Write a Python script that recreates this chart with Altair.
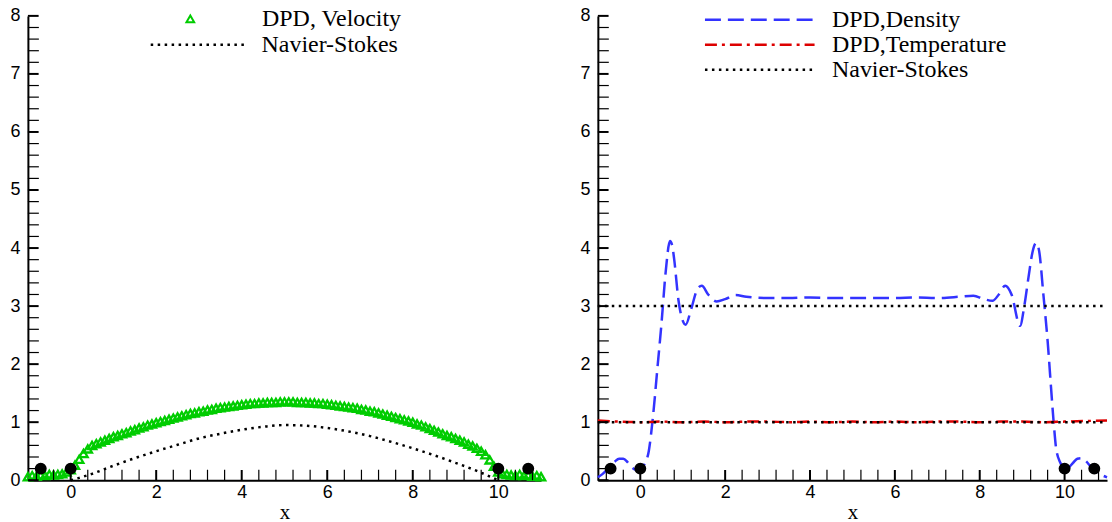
import altair as alt
import pandas as pd

# ---------------- data ----------------
# Left panel: DPD velocity (triangles), sampled every 0.1 from -1 to 11
vel_x = [round(-1 + 0.1 * i, 1) for i in range(121)]
vel_y = [
    0.06, 0.08, 0.07, 0.09, 0.08, 0.10, 0.09, 0.10, 0.11, 0.14,   # -1.0 .. -0.1
    0.18, 0.26, 0.36, 0.46, 0.54, 0.60, 0.63, 0.66, 0.69, 0.72,   # 0.0 .. 0.9
    0.75, 0.77, 0.80, 0.82, 0.85, 0.87, 0.90, 0.92, 0.95, 0.97,   # 1.0 .. 1.9
    0.99, 1.01, 1.03, 1.05, 1.07, 1.09, 1.11, 1.13, 1.15, 1.16,   # 2.0 .. 2.9
    1.18, 1.19, 1.21, 1.22, 1.24, 1.25, 1.26, 1.27, 1.28, 1.29,   # 3.0 .. 3.9
    1.30, 1.31, 1.32, 1.32, 1.33, 1.33, 1.34, 1.34, 1.34, 1.35,   # 4.0 .. 4.9
    1.35, 1.35, 1.35, 1.34, 1.34, 1.34, 1.33, 1.33, 1.32, 1.32,   # 5.0 .. 5.9
    1.31, 1.30, 1.29, 1.28, 1.27, 1.26, 1.25, 1.24, 1.22, 1.21,   # 6.0 .. 6.9
    1.19, 1.18, 1.16, 1.14, 1.12, 1.10, 1.08, 1.06, 1.04, 1.02,   # 7.0 .. 7.9
    1.00, 0.97, 0.95, 0.92, 0.89, 0.86, 0.83, 0.80, 0.77, 0.75,   # 8.0 .. 8.9
    0.72, 0.69, 0.66, 0.62, 0.59, 0.55, 0.50, 0.44, 0.35, 0.24,   # 9.0 .. 9.9
    0.14, 0.11, 0.10, 0.09, 0.08, 0.10, 0.08, 0.09, 0.07, 0.08,   # 10.0 .. 10.9
    0.06,                                                         # 11.0
]

# Left panel: Navier-Stokes velocity profile
ns_left_x = [0.0, 0.2, 0.5, 1.0, 1.5, 2.0, 2.5, 3.0, 3.5, 4.0, 4.5, 5.0,
             5.5, 6.0, 6.5, 7.0, 7.5, 8.0, 8.5, 9.0, 9.5, 10.0]
ns_left_y = [0.0, 0.04, 0.11, 0.25, 0.38, 0.50, 0.61, 0.72, 0.80, 0.87, 0.92, 0.95,
             0.94, 0.90, 0.84, 0.76, 0.66, 0.55, 0.43, 0.30, 0.16, 0.0]

# Right panel: DPD density
den_x = [-1.0, -0.9, -0.8, -0.7, -0.6, -0.5, -0.4, -0.3, -0.2, -0.1,
         0.0, 0.1, 0.2, 0.3, 0.4, 0.5, 0.6, 0.7, 0.75, 0.8, 0.9, 1.0, 1.07,
         1.2, 1.35, 1.45, 1.6, 1.8, 2.0, 2.25, 2.5, 3.0, 3.5, 4.0, 4.5, 5.0,
         5.5, 6.0, 6.5, 7.0, 7.5, 7.85, 8.1, 8.3, 8.45, 8.6, 8.75, 8.95,
         9.05, 9.15, 9.25, 9.33, 9.4, 9.5, 9.6, 9.7, 9.75, 9.8, 9.9, 10.0,
         10.1, 10.2, 10.3, 10.4, 10.5, 10.6, 10.7, 10.8, 10.9, 11.0]
den_y = [0.05, 0.10, 0.17, 0.25, 0.32, 0.37, 0.37, 0.31, 0.22, 0.18,
         0.18, 0.28, 0.50, 1.10, 1.90, 2.70, 3.60, 4.12, 4.05, 3.80, 3.10, 2.75, 2.68,
         2.95, 3.30, 3.35, 3.20, 3.08, 3.12, 3.19, 3.16, 3.14, 3.14, 3.15, 3.14, 3.14,
         3.14, 3.14, 3.15, 3.14, 3.16, 3.18, 3.12, 3.09, 3.20, 3.35, 3.20, 2.66,
         3.00, 3.50, 3.95, 4.09, 3.95, 3.20, 2.40, 1.40, 0.93, 0.55, 0.30, 0.18,
         0.22, 0.30, 0.37, 0.38, 0.33, 0.25, 0.18, 0.12, 0.08, 0.05]

# Right panel: DPD temperature
tem_x = [-1.0, -0.5, 0.0, 0.5, 1.0, 1.5, 2.0, 2.5, 3.0, 3.5, 4.0, 4.5, 5.0, 5.5,
         6.0, 6.5, 7.0, 7.5, 8.0, 8.5, 9.0, 9.5, 10.0, 10.5, 11.0]
tem_y = [1.03, 1.01, 1.00, 1.01, 1.00, 1.01, 1.00, 1.01, 1.01, 1.00, 1.01, 1.00, 1.01, 1.00,
         1.01, 1.00, 1.01, 1.01, 1.00, 1.01, 1.01, 1.00, 1.01, 1.02, 1.03]

# Right panel: Navier-Stokes levels (density and temperature)
ns_right_x = [-1.0, 11.0]
ns_right_levels = [3.0, 1.0]

# Boundary particles
dot_x = [-0.7, 0.0, 10.0, 10.7]
dot_y = [0.2, 0.2, 0.2, 0.2]

# Ticks
x_major = [0, 2, 4, 6, 8, 10]
x_minor = [-0.8, -0.4, 0.4, 0.8, 1.2, 1.6, 2.4, 2.8, 3.2, 3.6, 4.4, 4.8, 5.2, 5.6,
           6.4, 6.8, 7.2, 7.6, 8.4, 8.8, 9.2, 9.6, 10.4, 10.8]
y_major = [0, 1, 2, 3, 4, 5, 6, 7, 8]
y_minor = [round(i * 0.2, 1) for i in range(1, 40) if i % 5 != 0]

# ---------------- layout ----------------
H = 466
WL = 515
WR = 511

SERIF = "Liberation Serif"
SANS = "Liberation Sans"
LEG_FS = 24

xs = alt.Scale(domain=[-1, 11], nice=False, zero=False)
ys = alt.Scale(domain=[0, 8], nice=False, zero=False)

x_axis = alt.Axis(values=x_major, tickSize=0, labelPadding=3, labelFont=SANS,
                  labelFontSize=18, labelColor="black", domainColor="black",
                  domainWidth=2, grid=False, labelFlush=False, title="x",
                  titleFont=SERIF, titleFontSize=21, titleFontWeight="normal",
                  titleColor="black", titlePadding=0)
y_axis = alt.Axis(values=y_major, tickSize=0, labelPadding=8, labelFont=SANS,
                  labelFontSize=18, labelColor="black", domainColor="black",
                  domainWidth=2, grid=False, labelFlush=False, title=None)


def X(field):
    return alt.X(field, type="quantitative", scale=xs, axis=x_axis)


def Y(field):
    return alt.Y(field, type="quantitative", scale=ys, axis=y_axis)


# inward tick symbols: custom paths scaled by sqrt(size)/2 -> length sqrt(size)
UP_TICK = "M0,0L0,-2"
RIGHT_TICK = "M0,0L2,0"

KINDS = ["dot", "xmaj", "xmin", "ymaj", "ymin"]
pts_rows = []
for xv, yv in zip(dot_x, dot_y):
    pts_rows.append({"x": xv, "y": yv, "kind": "dot"})
for xv in x_major:
    pts_rows.append({"x": xv, "y": 0.0, "kind": "xmaj"})
for xv in x_minor:
    pts_rows.append({"x": xv, "y": 0.0, "kind": "xmin"})
for yv in y_major:
    pts_rows.append({"x": -1.0, "y": yv, "kind": "ymaj"})
for yv in y_minor:
    pts_rows.append({"x": -1.0, "y": yv, "kind": "ymin"})
pts_df = pd.DataFrame(pts_rows)


def points_layer():
    # boundary particles and inward axis ticks
    return alt.Chart(pts_df).mark_point(color="black", opacity=1, strokeCap="butt").encode(
        x=X("x"), y=Y("y"),
        shape=alt.Shape("kind:N", scale=alt.Scale(domain=KINDS,
                                                 range=["circle", UP_TICK, UP_TICK, RIGHT_TICK, RIGHT_TICK]),
                        legend=None),
        size=alt.Size("kind:O", scale=alt.Scale(domain=KINDS, range=[100, 121, 36, 144, 36]),
                      legend=None),
        fill=alt.condition("datum.kind == 'dot'", alt.value("black"), alt.value("transparent")),
        strokeWidth=alt.condition("datum.kind == 'xmin' || datum.kind == 'ymin'",
                                  alt.value(1.2), alt.value(2)),
    )


# horizontal line symbol for legends; scaled by sqrt(size)/2
LINE_SYM = "M-10,0L10,0"

# ---------------- left panel ----------------
vel_df = pd.DataFrame({"x": vel_x, "y": vel_y, "series": "DPD, Velocity"})
nsl_df = pd.DataFrame({"x": ns_left_x, "y": ns_left_y, "series": "Navier-Stokes"})

tri = alt.Chart(vel_df).mark_point(
    shape="triangle-up", filled=False, color="#00cc00", strokeWidth=2.3, size=70, opacity=1
).encode(
    x=X("x"), y=Y("y"),
    shape=alt.Shape("series:N", scale=alt.Scale(domain=["DPD, Velocity"], range=["triangle-up"]),
                    legend=alt.Legend(orient="none", legendX=151, legendY=-9, title=None,
                                      symbolSize=60, symbolStrokeColor="#00cc00",
                                      symbolFillColor="transparent", symbolStrokeWidth=2,
                                      labelFont=SERIF, labelFontSize=LEG_FS, labelColor="black",
                                      labelOffset=60, labelLimit=400, padding=0)),
)

nsl = alt.Chart(nsl_df).mark_line(
    color="black", strokeWidth=2.5, strokeCap="butt", interpolate="monotone"
).encode(
    x=X("x"), y=Y("y"),
    strokeDash=alt.StrokeDash("series:N", scale=alt.Scale(domain=["Navier-Stokes"], range=[[2.5, 4.5]]),
                              legend=alt.Legend(orient="none", legendX=158.75, legendY=17, title=None,
                                                symbolType=LINE_SYM, symbolSize=90.25,
                                                symbolStrokeColor="black", symbolStrokeWidth=2.5,
                                                labelFont=SERIF, labelFontSize=LEG_FS, labelColor="black",
                                                labelOffset=51.75, labelLimit=400, padding=0)),
)

left = alt.layer(nsl, tri, points_layer()).resolve_scale(
    shape="independent", size="independent"
).properties(width=WL, height=H)

# ---------------- right panel ----------------
rows = []
for xv, yv in zip(den_x, den_y):
    rows.append({"x": xv, "y": yv, "series": "DPD,Density", "grp": "den"})
for xv, yv in zip(tem_x, tem_y):
    rows.append({"x": xv, "y": yv, "series": "DPD,Temperature", "grp": "tem"})
for lvl in ns_right_levels:
    for xv in ns_right_x:
        rows.append({"x": xv, "y": lvl, "series": "Navier-Stokes", "grp": "ns%g" % lvl})
right_df = pd.DataFrame(rows)

series_dom = ["DPD,Density", "DPD,Temperature", "Navier-Stokes"]
right_legend = alt.Legend(orient="none", legendX=150.5, legendY=-8, title=None,
                          symbolType=LINE_SYM, symbolSize=121, symbolStrokeWidth=2.5,
                          labelFont=SERIF, labelFontSize=LEG_FS, labelColor="black",
                          labelOffset=60.5, labelLimit=400, rowPadding=1, padding=0)

rlines = alt.Chart(right_df).mark_line(strokeWidth=2.5, strokeCap="butt", interpolate="monotone").encode(
    x=X("x"), y=Y("y"),
    detail="grp:N",
    color=alt.Color("series:N", scale=alt.Scale(domain=series_dom,
                                               range=["#3333ff", "#dd0000", "black"]),
                    legend=right_legend),
    strokeDash=alt.StrokeDash("series:N", scale=alt.Scale(domain=series_dom,
                                                         range=[[16, 7], [12, 5, 3, 5], [2.5, 4.5]]),
                              legend=right_legend),
    order=alt.Order("x:Q"),
)

right = alt.layer(rlines, points_layer()).resolve_scale(
    shape="independent", size="independent"
).properties(width=WR, height=H)

chart = alt.hconcat(left, right, spacing=29).resolve_scale(
    shape="independent", strokeDash="independent", color="independent", size="independent"
).resolve_legend(
    shape="independent", strokeDash="independent", color="independent", size="independent"
).properties(
    padding={"left": 9, "top": 6, "right": 0, "bottom": 0},
    background="white",
).configure_view(stroke=None)

chart.save("out.html", embed_options={"renderer": "svg", "actions": False})
